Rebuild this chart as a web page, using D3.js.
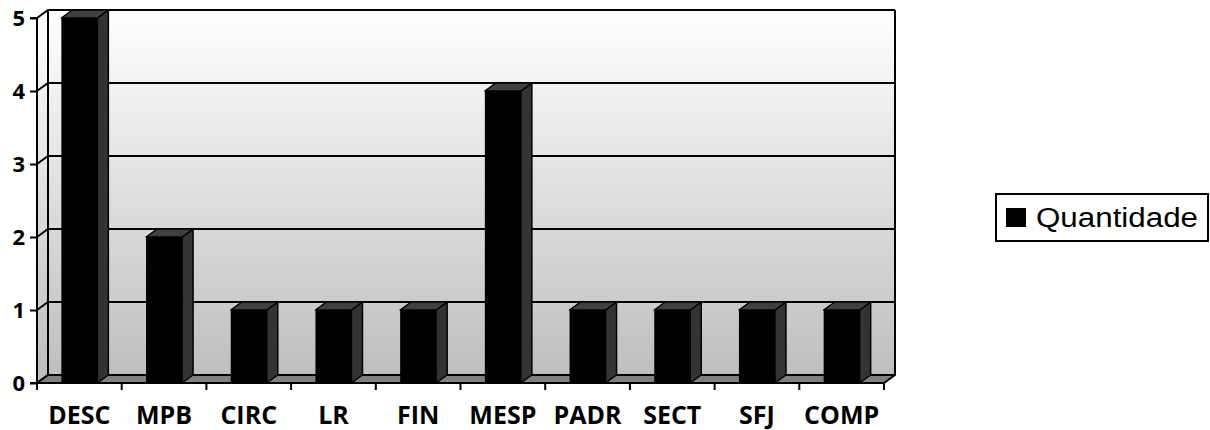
<!DOCTYPE html>
<html>
<head>
<meta charset="utf-8">
<script src="https://cdn.jsdelivr.net/npm/d3@7"></script>
<style>
  html, body { margin: 0; padding: 0; background: #fff; }
  svg { display: block; }
</style>
</head>
<body>
<svg id="chart" width="1210" height="430"></svg>
<script>
// Quantities per category
const categories = ["DESC", "MPB", "CIRC", "LR", "FIN", "MESP", "PADR", "SECT", "SFJ", "COMP"];
const values = [5, 2, 1, 1, 1, 4, 1, 1, 1, 1];
const yTicks = [0, 1, 2, 3, 4, 5];
const seriesName = "Quantidade";

const svg = d3.select("#chart");

// Front plane of the 3D box and its depth offset
const plotLeft = 37, plotRight = 884, plotTop = 18, plotBottom = 383;
const dx = 11, dy = 8;
const barWidth = 36;

const x = d3.scaleBand().domain(categories).range([plotLeft, plotRight]).padding(0);
const y = d3.scaleLinear().domain([0, 5]).range([plotBottom, plotTop]);

const defs = svg.append("defs");
const grad = defs.append("linearGradient")
  .attr("id", "wallGrad").attr("gradientUnits", "userSpaceOnUse")
  .attr("x1", 0).attr("y1", plotTop - dy).attr("x2", 0).attr("y2", plotBottom);
grad.append("stop").attr("offset", 0).attr("stop-color", "#ffffff");
grad.append("stop").attr("offset", 1).attr("stop-color", "#bdbdbd");

const line = d3.line();

// Back wall
svg.append("rect")
  .attr("x", plotLeft + dx).attr("y", plotTop - dy)
  .attr("width", plotRight - plotLeft).attr("height", plotBottom - plotTop)
  .attr("fill", "url(#wallGrad)");

// Side wall
svg.append("path")
  .attr("d", line([[plotLeft, plotTop], [plotLeft + dx, plotTop - dy], [plotLeft + dx, plotBottom - dy], [plotLeft, plotBottom]]) + "Z")
  .attr("fill", "url(#wallGrad)");

// Gridlines on back and side walls
const grid = svg.append("g").attr("stroke", "#000").attr("stroke-width", 2).attr("fill", "none");
yTicks.forEach(t => {
  grid.append("path").attr("d", line([[plotLeft, y(t)], [plotLeft + dx, y(t) - dy], [plotRight + dx, y(t) - dy]]));
});
grid.append("path").attr("d", line([[plotLeft + dx, plotTop - dy], [plotLeft + dx, plotBottom - dy]]));
grid.append("path").attr("d", line([[plotRight + dx, plotTop - dy], [plotRight + dx, plotBottom - dy]]));

// Floor
svg.append("path")
  .attr("d", line([[plotLeft, plotBottom], [plotLeft + dx, plotBottom - dy], [plotRight + dx, plotBottom - dy], [plotRight, plotBottom]]) + "Z")
  .attr("fill", "#808080").attr("stroke", "#000").attr("stroke-width", 2).attr("stroke-linejoin", "round");

// Columns
const bars = svg.append("g").selectAll("g").data(categories).join("g");
bars.each(function (c, i) {
  const g = d3.select(this);
  const v = values[i];
  const cx = x(c) + x.bandwidth() / 2;
  const xl = cx - barWidth / 2, xr = cx + barWidth / 2;
  const yv = y(v), y0 = y(0);
  g.append("path")
    .attr("d", line([[xr, yv], [xr + dx, yv - dy], [xr + dx, y0 - dy], [xr, y0]]) + "Z")
    .attr("fill", "#333333").attr("stroke", "#000").attr("stroke-width", 1.5).attr("stroke-linejoin", "round");
  g.append("path")
    .attr("d", line([[xl, yv], [xl + dx, yv - dy], [xr + dx, yv - dy], [xr, yv]]) + "Z")
    .attr("fill", "#404040").attr("stroke", "#000").attr("stroke-width", 1.5).attr("stroke-linejoin", "round");
  g.append("rect")
    .attr("x", xl).attr("y", yv).attr("width", barWidth).attr("height", y0 - yv)
    .attr("fill", "#000");
});

// Value axis
const yAxis = svg.append("g").attr("transform", `translate(${plotLeft},0)`)
  .call(d3.axisLeft(y).tickValues(yTicks).tickFormat(d3.format("d")).tickSize(7).tickPadding(5));
yAxis.select(".domain").attr("stroke-width", 2).attr("d", `M-7,${plotTop}H0V${plotBottom}H-7`);
yAxis.selectAll(".tick line").attr("stroke-width", 2);
yAxis.selectAll(".tick text")
  .attr("font-family", "'Open Sans', sans-serif").attr("font-weight", "bold")
  .attr("font-size", 22).attr("fill", "#000");

// Category axis
const xAxis = svg.append("g").attr("transform", `translate(0,${plotBottom})`)
  .call(d3.axisBottom(x).tickSize(0).tickPadding(23));
xAxis.select(".domain").remove();
xAxis.selectAll(".tick text")
  .attr("font-family", "'Open Sans', sans-serif").attr("font-weight", "bold")
  .attr("font-size", 25).attr("fill", "#000");
// Category boundary ticks
const bounds = categories.map(c => x(c)).concat([plotRight]);
svg.append("g").selectAll("line").data(bounds).join("line")
  .attr("x1", d => d).attr("x2", d => d)
  .attr("y1", plotBottom).attr("y2", plotBottom + 7)
  .attr("stroke", "#000").attr("stroke-width", 2);
svg.append("path").attr("d", line([[plotLeft, plotBottom], [plotRight, plotBottom]]))
  .attr("stroke", "#000").attr("stroke-width", 2);

// Legend
const legend = svg.append("g");
legend.append("rect")
  .attr("x", 996).attr("y", 194).attr("width", 212).attr("height", 47)
  .attr("fill", "#fff").attr("stroke", "#000").attr("stroke-width", 2);
legend.append("rect")
  .attr("x", 1006).attr("y", 208).attr("width", 20).attr("height", 19)
  .attr("fill", "#000");
legend.append("text")
  .attr("x", 1036).attr("y", 227)
  .attr("font-family", "'Liberation Sans', Arial, sans-serif").attr("font-size", 27)
  .attr("textLength", 162).attr("lengthAdjust", "spacingAndGlyphs")
  .text(seriesName);
</script>
</body>
</html>
